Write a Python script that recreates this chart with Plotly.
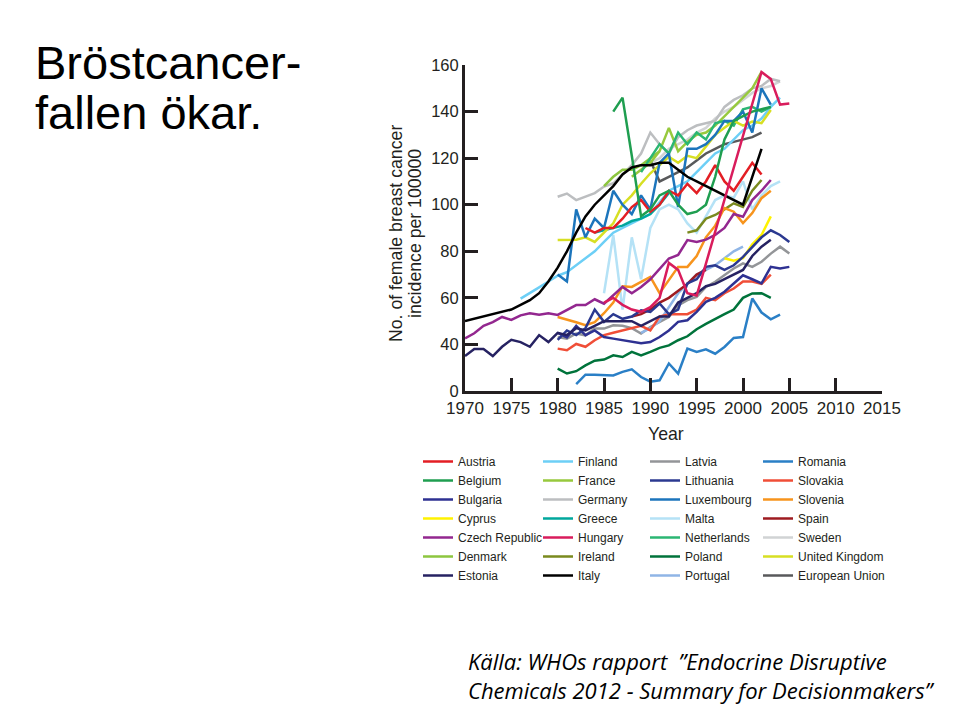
import plotly.graph_objects as go

# ------------------------------------------------------------------ data
austria_years = list(range(1983, 2003))
austria = [90, 88, 90, 90, 94, 99, 102, 97, 100, 106,
           104, 109, 105, 110, 117, 110, 106, 112, 118, 113]

belgium_years = list(range(1986, 2004))
belgium = [140, 146, 121, 95, 98, 104, 106, 100, 96, 97,
           100, 112, 128, 136, 138, 140, 141, 142]

bulgaria_years = list(range(1980, 2006))
bulgaria = [45, 43, 48, 44, 46, 43.2, 42.5, 41.8, 41, 40.5,
            41, 43.2, 46, 49.7, 50.4, 54, 58.3, 60, 62.6, 66,
            69.7, 68, 66.2, 73.3, 72.6, 73.3]

cyprus_years = list(range(1998, 2004))
cyprus = [77, 76, 77, 83, 87, 95]

czech_years = list(range(1970, 2004))
czech = [42.6, 44.8, 48, 49.6, 51.8, 50.5, 52.5, 53.4, 52.8, 53.4,
         52.7, 54.7, 56.9, 56.9, 59.4, 57.5, 61, 64.7, 62, 64.7,
         68, 72.6, 76.9, 78.4, 84.8, 84, 85, 87, 90, 96,
         94.8, 102, 106, 110.6]

denmark_years = list(range(1985, 1992))
denmark = [108, 112, 115, 115, 117, 120, 123]

estonia_years = list(range(1970, 2004))
estonia = [35, 38, 38, 35, 39, 42, 41, 39, 44, 41,
           45, 44, 47, 46, 48, 50, 50, 50, 50, 48,
           50, 52, 52, 58, 60, 62, 65, 66, 68, 70,
           72, 78, 82, 85]

finland_years = list(range(1976, 2005))
finland = [59.7, 62, 64.5, 67, 69.5, 71, 74, 77, 80, 84,
           88, 90, 92, 94, 96, 101, 106, 108, 110, 114,
           118, 122, 124, 128, 132, 134, 137, 142, 146]

france_years = list(range(1988, 2003))
france = [112, 115, 118, 123, 133, 123, 127, 130, 131, 134,
          138, 142, 146, 150, 157]

germany_years = list(range(1980, 2005))
germany = [103.4, 104.8, 102, 103.5, 105, 107.8, 109.2, 113, 117, 122,
           131, 126, 122, 129, 132, 134, 135, 136, 142, 145,
           147, 150, 151, 154, 153]

greece_years = list(range(1984, 1993))
greece = [88, 89, 90, 91, 93, 94, 96, 100, 105]

hungary_years = [1985, 1986, 1987, 1988, 1989, 1990, 1991, 1992, 1993, 1994,
                 1995, 2002, 2003, 2004, 2005]
hungary = [58, 60, 57, 55, 54, 56, 60, 75, 72, 62,
           61, 157, 154, 143, 143.5]

ireland_years = list(range(1994, 2003))
ireland = [88, 89, 94, 95.6, 98, 100.6, 99, 106, 110.6]

italy_years = list(range(1970, 2003))
italy = [50, 51, 52, 53, 54, 55, 57, 59, 62, 67,
         73, 80, 88, 95, 100, 104, 108, 113, 116, 117,
         117, 118, 118, 115, 112, 110, 108, 106, 104, 102,
         100, 112, 124]

latvia_years = list(range(1980, 2006))
latvia = [43.2, 42.5, 44.7, 43.9, 46.8, 46.8, 48.2, 48, 47, 44.7,
          47.5, 49.7, 51.8, 56.8, 59, 60.4, 64.7, 66.9, 69.7, 72.6,
          74.8, 73.3, 75.5, 79, 82, 79]

lithuania_years = list(range(1980, 2006))
lithuania = [42, 46, 44, 47, 55, 49.7, 53, 51, 52, 54.7,
             54, 57.6, 53, 55, 66.2, 68, 73.3, 74, 72, 74,
             77.6, 82, 86, 89, 87, 84]

luxembourg_years = list(range(1980, 2004))
luxembourg = [70, 67, 98, 86, 94, 90, 106, 100, 96, 104,
              98, 118, 122, 99, 124, 124, 126, 130, 136, 136,
              140, 131, 150, 143]

malta_years = list(range(1985, 2005))
malta = [62, 87, 55, 86, 68, 90, 98, 100, 98, 92,
         88, 95, 102, 104, 103, 110, 98, 104, 108, 110]

netherlands_years = list(range(1989, 2004))
netherlands = [114, 120, 126, 122, 131, 126, 131, 128, 135, 136,
               134, 141, 142, 140, 142]

poland_years = list(range(1980, 2004))
poland = [29.6, 27.5, 28.5, 31, 33, 33.5, 35.3, 34.6, 36.8, 35.3,
          36.8, 38.5, 39.6, 41.8, 43.5, 46.5, 48.8, 51, 53, 55,
          60, 61.9, 62, 60]

portugal_years = list(range(1989, 2001))
portugal = [45, 47, 50, 56, 62, 66, 70, 72, 74, 77, 80, 82]

romania_years = list(range(1982, 2005))
romania = [23, 27, 27, 27, 26.7, 28.2, 29.3, 26, 24, 24.6,
           31.8, 27.5, 38.2, 36.8, 37.9, 36, 38.9, 42.8, 43.2, 59.7,
           53.7, 50.8, 52.8]

slovakia_years = list(range(1980, 2004))
slovakia = [38.2, 37.5, 40.2, 39, 41.8, 44, 45, 46, 47, 48,
            46, 52, 53, 53, 53, 55, 60, 59, 62, 64,
            67, 67, 66, 70]

slovenia_years = list(range(1980, 2004))
slovenia = [51.8, 50.5, 49.5, 48.3, 49.6, 53.4, 58, 65, 64.7, 66.9,
            69, 62, 67.6, 73.3, 73.3, 78, 86, 91, 98.6, 97,
            92.1, 96.4, 102.8, 106]

spain_years = list(range(1988, 1997))
spain = [52, 53, 55, 58, 60, 63, 66, 70, 72]

sweden_years = list(range(1990, 2005))
sweden = [118, 120, 124, 126, 128, 131, 133, 137, 140, 142,
          145, 148, 150, 151, 153]

uk_years = list(range(1980, 2004))
uk = [84.8, 85, 85, 86, 84, 88, 92, 100, 104, 109,
      113.5, 117, 120.6, 118, 121, 120, 125, 130, 133, 136,
      134, 135.7, 135, 140.7]

eu_years = list(range(1990, 2003))
eu = [119, 110, 112, 114, 116, 119, 122, 124, 126, 127, 128, 129, 131]

# y tick positions and their printed labels (axis shows 0 at the bottom tick)
y_tickvals = [20, 40, 60, 80, 100, 120, 140, 160]
y_ticktext = ["0", "40", "60", "80", "100", "120", "140", "160"]
x_tickvals = [1970, 1975, 1980, 1985, 1990, 1995, 2000, 2005, 2010, 2015]

# name, years, values, colour, legend column, row
series = [
    ("Austria", austria_years, austria, "#e31e24", 1, 1),
    ("Belgium", belgium_years, belgium, "#1f9e50", 1, 2),
    ("Bulgaria", bulgaria_years, bulgaria, "#2e3192", 1, 3),
    ("Cyprus", cyprus_years, cyprus, "#fff200", 1, 4),
    ("Czech Republic", czech_years, czech, "#93278f", 1, 5),
    ("Denmark", denmark_years, denmark, "#8dc63f", 1, 6),
    ("Estonia", estonia_years, estonia, "#262262", 1, 7),
    ("Finland", finland_years, finland, "#6dcff6", 2, 1),
    ("France", france_years, france, "#97c93d", 2, 2),
    ("Germany", germany_years, germany, "#bcbec0", 2, 3),
    ("Greece", greece_years, greece, "#00a79d", 2, 4),
    ("Hungary", hungary_years, hungary, "#d91c5c", 2, 5),
    ("Ireland", ireland_years, ireland, "#7a8a1e", 2, 6),
    ("Italy", italy_years, italy, "#000000", 2, 7),
    ("Latvia", latvia_years, latvia, "#939598", 3, 1),
    ("Lithuania", lithuania_years, lithuania, "#2b3990", 3, 2),
    ("Luxembourg", luxembourg_years, luxembourg, "#1c75bc", 3, 3),
    ("Malta", malta_years, malta, "#b5e2f6", 3, 4),
    ("Netherlands", netherlands_years, netherlands, "#2bb673", 3, 5),
    ("Poland", poland_years, poland, "#00733b", 3, 6),
    ("Portugal", portugal_years, portugal, "#8fb5e6", 3, 7),
    ("Romania", romania_years, romania, "#2a7fc6", 4, 1),
    ("Slovakia", slovakia_years, slovakia, "#f04e37", 4, 2),
    ("Slovenia", slovenia_years, slovenia, "#f7941d", 4, 3),
    ("Spain", spain_years, spain, "#9e1b20", 4, 4),
    ("Sweden", sweden_years, sweden, "#d1d3d4", 4, 5),
    ("United Kingdom", uk_years, uk, "#d7df23", 4, 6),
    ("European Union", eu_years, eu, "#58595b", 4, 7),
]

draw_order = ["Sweden", "Germany", "Malta", "European Union", "Latvia", "Portugal",
              "Finland", "Denmark", "France", "Greece", "Netherlands",
              "United Kingdom", "Cyprus", "Ireland", "Luxembourg", "Austria",
              "Belgium", "Slovakia", "Slovenia", "Spain", "Czech Republic",
              "Poland", "Romania", "Bulgaria", "Lithuania", "Estonia",
              "Italy", "Hungary"]

# ------------------------------------------------------------------ layout geometry
# the page body adds an 8 px offset, so the figure is 8 px smaller and every
# target position (in window pixels) is shifted by that offset
OFF = 8
FW, FH = 960 - OFF, 720 - OFF
PW, PH = 417, 326
L, T = 465 - OFF, 65 - OFF
R, B = FW - L - PW, FH - T - PH


def px(x):
    return (x - OFF - L) / PW


def py(y):
    return (T + PH - (y - OFF)) / PH


TXT = "#231f20"
SANS = "Liberation Sans, Arial, sans-serif"

fig = go.Figure()
by_name = {s[0]: s for s in series}
legend_ids = {1: "legend", 2: "legend2", 3: "legend3", 4: "legend4"}
for nm in draw_order:
    name, yrs, vals, col, lc, row = by_name[nm]
    fig.add_trace(go.Scatter(
        x=yrs, y=vals, mode="lines", name=name,
        line=dict(color=col, width=2.5),
        legend=legend_ids[lc], legendrank=row,
        hoverinfo="x+y+name",
    ))

leg_text_x = {1: 458, 2: 578, 3: 685, 4: 798}
legend_top = 447
legends = {}
for lc, lid in legend_ids.items():
    legends[lid] = dict(
        x=px(leg_text_x[lc] - 40), y=py(legend_top),
        xanchor="left", yanchor="top", orientation="v",
        bgcolor="rgba(0,0,0,0)", borderwidth=0, tracegroupgap=0,
        itemwidth=30, traceorder="normal",
        font=dict(family=SANS, size=12, color=TXT),
    )

fig.update_layout(
    width=FW, height=FH,
    margin=dict(l=L, r=R, t=T, b=B, pad=0, autoexpand=False),
    paper_bgcolor="white", plot_bgcolor="white",
    showlegend=True,
    **legends,
)

fig.update_xaxes(
    range=[1970, 2015], tickvals=x_tickvals, tickangle=0,
    showgrid=False, zeroline=False,
    showline=True, linecolor=TXT, linewidth=3,
    ticks="inside", ticklen=13, tickwidth=3, tickcolor=TXT,
    tickfont=dict(family=SANS, size=17, color=TXT),
)
fig.update_yaxes(
    range=[20, 160], tickvals=y_tickvals, ticktext=y_ticktext,
    showgrid=False, zeroline=False,
    showline=True, linecolor=TXT, linewidth=3,
    ticks="inside", ticklen=13, tickwidth=3, tickcolor=TXT,
    tickfont=dict(family=SANS, size=16.5, color=TXT),
)

ann = []
# slide heading
for line, top in (("Bröstcancer-", 34), ("fallen ökar.", 84)):
    ann.append(dict(text=line, x=px(33), y=py(top), xref="paper", yref="paper",
                    xanchor="left", yanchor="top", showarrow=False,
                    font=dict(family=SANS, size=47, color="black")))
# axis titles
ann.append(dict(text="No. of female breast cancer", x=px(396), y=py(234), xref="paper", yref="paper",
                xanchor="center", yanchor="middle", textangle=-90, showarrow=False,
                font=dict(family=SANS, size=17.7, color=TXT)))
ann.append(dict(text="incidence per 100000", x=px(415), y=py(234), xref="paper", yref="paper",
                xanchor="center", yanchor="middle", textangle=-90, showarrow=False,
                font=dict(family=SANS, size=17.7, color=TXT)))
ann.append(dict(text="Year", x=px(666), y=py(434), xref="paper", yref="paper",
                xanchor="center", yanchor="middle", showarrow=False,
                font=dict(family=SANS, size=17.7, color=TXT)))
# source
ann.append(dict(text="<i>Källa: WHOs rapport  ”Endocrine Disruptive<br>"
                     "Chemicals 2012 - Summary for Decisionmakers”</i>",
                x=px(466), y=py(675), xref="paper", yref="paper",
                xanchor="left", yanchor="middle", align="left", showarrow=False,
                font=dict(family="Open Sans, Noto Sans, sans-serif", size=22, color="black")))
fig.update_layout(annotations=ann)

# slide frame edge on the right
fig.add_shape(type="line", xref="paper", yref="paper",
              x0=px(958.5), x1=px(958.5), y0=py(0), y1=py(720),
              line=dict(color="#b8b8b8", width=1))

fig.write_html("out.html")
